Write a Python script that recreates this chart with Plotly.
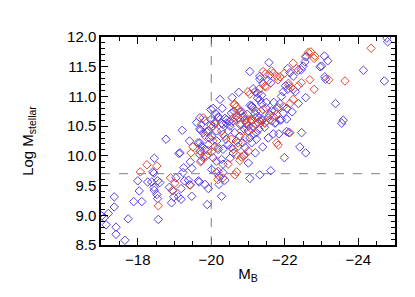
import plotly.graph_objects as go

# absolute B magnitude and log stellar mass
mb_blue = [
    -18.77, -19.41, -19.12, -19.15, -18.45, -18.41, -18.44, -19.25, -19.47, -19.43,
    -18.00, -18.27, -18.38, -18.54, -18.60, -18.44, -18.45, -18.52, -18.54, -18.04,
    -17.89, -18.11, -17.36, -17.36, -17.20, -17.09, -17.02, -17.74, -18.56, -17.14,
    -17.41, -17.41, -17.65, -18.86, -18.95, -18.98, -18.92, -19.11, -19.18, -19.18,
    -19.27, -19.38, -19.43, -19.65, -19.67, -19.47, -19.83, -19.92, -19.89, -19.04,
    -19.23, -20.14, -19.21, -19.60, -19.71, -19.87, -19.99, -19.69, -19.71,
    -19.69, -19.83, -19.99, -20.10, -20.19, -20.32, -20.42, -20.51, -20.60, -20.73,
    -20.78, -20.92, -21.01, -21.10, -21.19, -21.32, -21.41, -21.55, -21.64, -21.75,
    -21.91, -19.69, -19.78, -19.92, -20.01, -20.14, -20.32, -20.46, -20.64, -20.78,
    -21.01, -21.14, -21.23, -21.55, -19.64, -19.73, -19.83, -19.92, -20.10, -20.19,
    -20.32, -20.46, -20.55, -20.73, -20.92, -21.10, -21.23, -19.69, -19.73, -19.87,
    -20.05, -20.28, -20.32, -20.51, -21.01, -20.01, -20.14, -20.21, -20.37, -20.21,
    -20.28, -21.05, -21.32, -21.62, -21.99, -21.69, -21.84, -22.05, -22.11, -22.41,
    -22.57, -22.46, -22.20,
    -19.99, -20.24, -20.57, -20.75, -21.05, -21.57, -21.32, -21.59, -21.55, -21.62,
    -21.41, -21.14, -21.19, -21.27, -21.37, -21.26, -21.32, -21.37, -21.10, -21.11,
    -20.78, -21.19, -21.27, -21.37, -20.87, -21.59, -21.73, -21.82, -21.87, -21.91,
    -21.96, -22.23, -22.29, -22.57, -22.59, -22.55, -22.50, -22.45, -22.37, -22.08,
    -22.14, -22.23, -21.32, -22.02, -22.08, -22.37, -20.05, -20.19, -20.37, -20.41,
    -20.28, -20.50, -20.96, -21.14, -21.46, -21.73, -21.87, -22.05, -22.06, -21.96,
    -21.50, -21.50,
    -24.78, -24.80, -24.14, -24.71, -23.09, -23.11, -22.96, -23.00, -23.08, -23.17,
    -23.38, -23.59, -23.55,
    -21.06, -21.14, -20.98, -20.90, -21.30, -21.45, -20.68, -20.85, -21.05, -20.40,
    -20.60, -20.88, -21.20, -21.40, -20.15, -19.95, -20.55, -20.30, -21.35, -21.70,
    -20.32, -20.62, -20.82,
]
logm_blue = [
    10.28, 10.25, 10.04, 10.05, 9.96, 9.73, 9.71, 9.80, 9.79, 9.90,
    9.58, 9.56, 9.56, 9.58, 9.55, 9.47, 9.42, 9.35, 9.28, 9.41,
    9.23, 9.23, 9.31, 9.14, 9.03, 8.96, 8.99, 8.94, 8.93, 8.84,
    8.80, 8.68, 8.58, 9.47, 9.42, 9.31, 9.21, 9.31, 9.27, 9.45,
    9.58, 9.59, 9.51, 9.58, 9.56, 9.32, 9.52, 9.45, 9.18, 9.63,
    9.72, 10.70, 10.43, 10.56, 10.43, 10.41, 10.52, 10.22, 10.08,
    10.64, 10.59, 10.61, 10.56, 10.64, 10.53, 10.61, 10.50, 10.59, 10.64,
    10.53, 10.61, 10.50, 10.59, 10.64, 10.59, 10.61, 10.64, 10.59, 10.56,
    10.61, 10.45, 10.39, 10.42, 10.33, 10.42, 10.36, 10.42, 10.39, 10.33,
    10.42, 10.36, 10.39, 10.30, 10.22, 10.16, 10.11, 10.19, 10.16, 10.11,
    10.11, 10.19, 10.14, 10.16, 10.14, 10.22, 10.28, 10.02, 9.92, 10.00,
    9.97, 9.94, 9.86, 9.96, 9.88, 9.77, 9.72, 9.66, 9.59, 9.52,
    9.32, 9.62, 9.68, 9.75, 9.97, 10.37, 10.37, 10.41, 10.39, 10.15,
    10.05, 10.39, 10.74,
    10.78, 10.95, 10.98, 11.07, 11.42, 11.57, 11.34, 11.36, 11.27, 11.23,
    11.22, 11.13, 11.08, 11.05, 11.02, 10.97, 10.94, 10.88, 10.84, 10.83,
    10.74, 10.71, 10.66, 10.60, 10.66, 10.69, 10.76, 10.81, 10.88, 11.00,
    11.08, 11.12, 11.08, 10.98, 11.67, 11.58, 11.51, 11.45, 11.44, 11.47,
    11.40, 11.34, 11.29, 11.18, 11.12, 10.88, 10.80, 10.66, 10.63, 10.55,
    10.55, 10.58, 10.55, 10.50, 10.55, 10.55, 10.60, 10.62, 10.80, 10.72,
    10.80, 10.90,
    11.98, 11.92, 11.44, 11.26, 11.33, 11.29, 11.50, 11.51, 11.68, 11.60,
    10.88, 10.60, 10.55,
    10.85, 10.80, 10.70, 10.45, 10.45, 10.48, 10.25, 10.22, 10.30, 10.28,
    10.05, 10.00, 10.05, 10.15, 10.25, 10.30, 10.72, 10.80, 10.75, 10.90,
    9.72, 10.75, 10.75,
]

mb_red = [
    -18.07, -18.25, -18.52, -18.89, -19.01, -18.95, -18.56, -19.41, -19.50, -19.45,
    -19.71, -20.18, -19.78, -20.10, -19.84, -20.05, -19.91, -20.01,
    -19.73, -20.05, -20.28, -20.55, -20.69, -20.82, -20.96, -21.23, -21.46, -21.60,
    -20.37, -20.55, -20.82, -20.92, -21.10, -19.69, -19.78, -20.19, -20.60, -20.73,
    -21.01, -20.14, -20.46, -20.69, -20.78, -20.19, -20.32, -20.69, -20.64, -21.78,
    -21.82, -22.14,
    -21.00, -21.05, -20.69, -20.73, -20.62, -22.10, -22.17, -22.37, -22.45, -22.68,
    -22.80, -22.64, -22.71, -22.82, -22.23, -22.32, -21.99, -21.87, -21.82, -21.78,
    -21.69, -21.64, -21.41, -21.47, -22.11, -22.23,
    -20.64, -20.85, -20.98, -21.64, -21.78, -21.96, -22.14, -21.30, -21.50, -20.69,
    -24.35, -23.64, -23.20, -22.56, -22.80, -20.91, -20.82,
    -21.46, -21.23, -21.41, -21.10, -21.28, -20.60, -21.69,
]
logm_red = [
    9.73, 9.85, 9.83, 9.63, 9.54, 9.41, 9.16, 9.51, 10.15, 10.05,
    9.90, 9.60, 10.64, 10.54, 10.33, 10.25, 10.09, 10.07,
    10.53, 10.50, 10.42, 10.56, 10.61, 10.53, 10.56, 10.53, 10.56, 10.61,
    10.33, 10.28, 10.42, 10.30, 10.45, 10.08, 9.97, 10.14, 10.11, 10.22,
    10.08, 9.91, 9.86, 10.02, 9.92, 9.74, 9.63, 9.73, 9.68, 10.22,
    10.18, 10.39,
    11.08, 11.04, 10.83, 10.78, 10.86, 11.22, 11.15, 11.18, 11.23, 11.28,
    11.12, 11.74, 11.75, 11.68, 11.56, 11.47, 11.39, 11.33, 11.28, 11.34,
    11.39, 11.43, 11.42, 11.38, 11.18, 10.95,
    10.87, 10.72, 10.62, 10.76, 10.70, 10.83, 10.88, 11.12, 11.16, 10.67,
    11.81, 11.26, 11.28, 11.67, 11.64, 10.02, 9.98,
    11.17, 10.75, 10.78, 10.61, 10.56, 10.64, 10.66,
]

mb_cut = -20.0
logm_cut = 9.7

x_ticks = [-18, -20, -22, -24]
y_ticks = [8.5, 9.0, 9.5, 10.0, 10.5, 11.0, 11.5, 12.0]

fig = go.Figure()
fig.add_trace(
    go.Scatter(
        x=mb_blue,
        y=logm_blue,
        mode="markers",
        marker=dict(symbol="diamond-open", size=6.5, color="#5a3fe0", line=dict(width=1)),
        showlegend=False,
    )
)
fig.add_trace(
    go.Scatter(
        x=mb_red,
        y=logm_red,
        mode="markers",
        marker=dict(symbol="diamond-open", size=6.5, color="#e04a30", line=dict(width=1)),
        showlegend=False,
    )
)

# dashed cut lines
fig.add_vline(x=mb_cut, line=dict(color="#808080", width=1, dash="dash"))
fig.add_hline(y=logm_cut, line=dict(color="#808080", width=1, dash="dash"))

axis_common = dict(
    showgrid=False,
    zeroline=False,
    showline=True,
    linecolor="black",
    linewidth=1.5,
    mirror="ticks",
    ticks="inside",
    ticklen=7,
    tickwidth=1,
    tickcolor="black",
    tickfont=dict(family="Liberation Sans, Arial", size=15, color="black"),
)

fig.update_layout(
    width=415,
    height=297,
    margin=dict(l=93, r=28, t=29, b=60),
    paper_bgcolor="white",
    plot_bgcolor="white",
    font=dict(family="Liberation Sans, Arial", color="black"),
    xaxis=dict(
        range=[-17, -25],
        tickvals=x_ticks,
        minor=dict(dtick=0.5, ticks="inside", ticklen=4, tickcolor="black"),
        title=dict(text="M<sub>B</sub>", font=dict(size=15), standoff=2),
        **axis_common,
    ),
    yaxis=dict(
        range=[8.5, 12.0],
        tickvals=y_ticks,
        tickformat=".1f",
        minor=dict(dtick=0.1, ticks="inside", ticklen=4, tickcolor="black"),
        title=dict(text="Log M<sub>stellar</sub>", font=dict(size=15), standoff=30),
        **axis_common,
    ),
)

fig.write_html("out.html")
